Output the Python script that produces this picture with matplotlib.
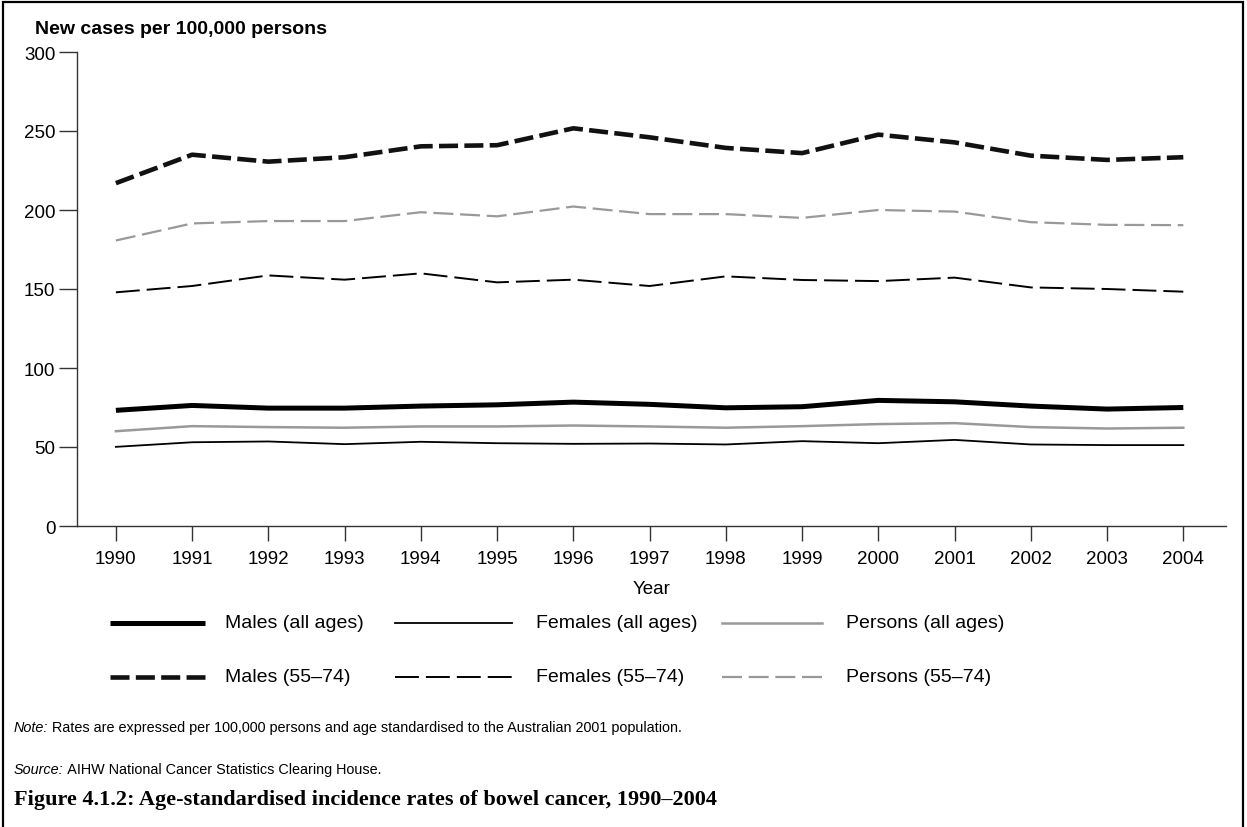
import matplotlib
matplotlib.use('Agg')
import matplotlib.pyplot as plt
from matplotlib.patches import Rectangle
from matplotlib.lines import Line2D

plt.rcParams['font.family'] = ['Liberation Sans', 'DejaVu Sans']

years = [1990, 1991, 1992, 1993, 1994, 1995, 1996, 1997, 1998, 1999, 2000, 2001, 2002, 2003, 2004]

males_all = [73.2, 76.3, 74.6, 74.6, 75.9, 76.7, 78.4, 77.0, 74.8, 75.5, 79.5, 78.6, 75.9, 74.0, 75.0]
females_all = [50.1, 53.0, 53.5, 51.8, 53.3, 52.4, 52.0, 52.2, 51.6, 53.7, 52.4, 54.5, 51.6, 51.2, 51.2]
persons_all = [60.0, 63.2, 62.6, 62.2, 63.0, 63.0, 63.6, 63.0, 62.2, 63.2, 64.5, 65.1, 62.6, 61.7, 62.2]
males_5574 = [217.0, 235.0, 230.6, 233.4, 240.3, 241.0, 251.7, 246.0, 239.3, 236.0, 247.7, 242.8, 234.4, 231.7, 233.4]
females_5574 = [147.9, 151.9, 158.6, 155.9, 159.9, 154.2, 155.9, 151.9, 158.0, 155.7, 155.0, 157.2, 151.0, 150.0, 148.3]
persons_5574 = [180.7, 191.5, 193.0, 193.0, 198.6, 196.0, 202.2, 197.4, 197.4, 195.0, 200.0, 199.0, 192.3, 190.6, 190.4]

yticks = [0, 50, 100, 150, 200, 250, 300]

GREY = '#999999'
BLACK = '#111111'

STYLES = {
    'Males (all ages)': dict(color='black', lw=3.6, solid_capstyle='butt'),
    'Females (all ages)': dict(color='black', lw=1.3),
    'Persons (all ages)': dict(color=GREY, lw=1.8),
    'Males (55\u201374)': dict(color=BLACK, lw=3.3, dashes=(4.15, 1.38)),
    'Females (55\u201374)': dict(color='black', lw=1.4, dashes=(12.3, 3.6)),
    'Persons (55\u201374)': dict(color=GREY, lw=1.6, dashes=(9.0, 3.0)),
}
series = [
    ('Males (all ages)', males_all),
    ('Females (all ages)', females_all),
    ('Persons (all ages)', persons_all),
    ('Males (55\u201374)', males_5574),
    ('Females (55\u201374)', females_5574),
    ('Persons (55\u201374)', persons_5574),
]

W, H = 1247, 828
fig = plt.figure(figsize=(W / 100, H / 100), dpi=100, facecolor='white')
ax = fig.add_axes([77 / W, 1 - 527 / H, (1226 - 77) / W, (527 - 53) / H])

for name, vals in series:
    ax.plot(years, vals, label=name, **STYLES[name])

ax.set_xlim(1989.49, 2004.56)
ax.set_ylim(0, 300)
ax.set_xticks(years)
ax.set_yticks(yticks)
for s in ['top', 'right']:
    ax.spines[s].set_visible(False)
for s in ['left', 'bottom']:
    ax.spines[s].set_color('#333333')
    ax.spines[s].set_linewidth(1.0)
ax.tick_params(axis='both', direction='out', width=1.0, color='#333333',
               labelsize=13.5, labelcolor='black')
ax.tick_params(axis='x', length=11, pad=6.5)
ax.tick_params(axis='y', length=13, pad=2.5)
ax.set_xlabel('Year', fontsize=13.5, labelpad=9)

fig.text(35 / W, 1 - 30 / H, 'New cases per 100,000 persons', fontsize=14,
         fontweight='bold', va='center', ha='left')

# legend, laid out in rows like the original
row_y = [624, 678]
line_x = [(110, 205), (395, 512), (722, 822)]
text_x = [225, 536, 846]
for i, (name, _) in enumerate(series):
    r, c = divmod(i, 3)
    y = 1 - row_y[r] / H
    x0, x1 = line_x[c]
    fig.add_artist(Line2D([x0 / W, x1 / W], [y, y], transform=fig.transFigure, **STYLES[name]))
    fig.text(text_x[c] / W, y, name, fontsize=14, va='center', ha='left')

# notes
fig.canvas.draw()
renderer = fig.canvas.get_renderer()
for y, lead, rest in [(728, 'Note:', ' Rates are expressed per 100,000 persons and age standardised to the Australian 2001 population.'),
                      (770, 'Source:', ' AIHW National Cancer Statistics Clearing House.')]:
    t = fig.text(14 / W, 1 - y / H, lead, fontsize=10.4, style='italic', va='center', ha='left')
    bb = t.get_window_extent(renderer=renderer)
    fig.text(bb.x1 / fig.bbox.width, 1 - y / H, rest, fontsize=10.4, va='center', ha='left')

fig.text(14 / W, 1 - 800 / H, 'Figure 4.1.2: Age-standardised incidence rates of bowel cancer, 1990\u20132004',
         fontsize=16, fontweight='bold', family=['Liberation Serif', 'DejaVu Serif'],
         va='center', ha='left')

# outer frame
fig.add_artist(Rectangle((3 / W, -0.05), 1240 / W, 1.05 - 3 / H, transform=fig.transFigure,
                         fill=False, edgecolor='black', lw=1.6))

fig.savefig('out.png', dpi=100, facecolor='white')
